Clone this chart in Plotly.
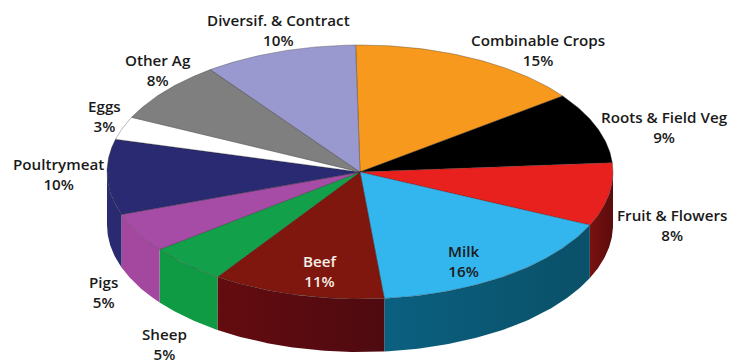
import numpy as np
import plotly.graph_objects as go

# Share of output by farming sector, clockwise from twelve o'clock
sectors = ["Combinable Crops", "Roots & Field Veg", "Fruit & Flowers", "Milk", "Beef",
           "Sheep", "Pigs", "Poultrymeat", "Eggs", "Other Ag", "Diversif. & Contract"]
shares = [15, 9, 8, 16, 11, 5, 5, 10, 3, 8, 10]

top_colors = ["#F7991C", "#000000", "#E8211F", "#33B5EE", "#80170F",
              "#12A04A", "#A64CA6", "#2A2A72", "#FFFFFF", "#7F7F7F", "#9999D0"]
wall_left = [None, None, "#7A1210", "#0B6080", "#640C10",
             "#0F9A44", "#A3479F", "#2A2A70", None, None, None]
wall_right = [None, None, "#5A0C0C", "#0A5068", "#4E0A10",
              "#0F9A44", "#A3479F", "#2A2A70", None, None, None]
label_colors = ["#1A1A1A"] * 4 + ["#F5EFE6"] + ["#1A1A1A"] * 6

# Text anchor of each label, in page pixels
label_x = [538, 664, 672, 463, 320, 164, 103, 58, 104, 158, 278]
label_y = [50, 127, 225, 261, 271, 344, 292, 174, 116, 70, 30]

CX, CY, RX, RY, DEPTH = 360, 172, 253, 127, 53
START_DEG = -1.0

# Tilted view: slices nearer the viewer sweep slightly further round the rim
VIEW_ANGLE = [0, 115, 172, 250, 284, 360]
VIEW_SHIFT = [0, 0.5, 2.7, 3.1, 1.5, 0]


def rim(t_deg):
    t = np.radians(t_deg)
    return CX + RX * np.sin(t), CY - RY * np.cos(t)


fig = go.Figure()
edges = START_DEG + 3.6 * np.concatenate([[0], np.cumsum(shares)])
edges = edges + np.interp(edges % 360, VIEW_ANGLE, VIEW_SHIFT)

# Side wall of the disc: only the front half (90 to 270 degrees) can be seen
for i in range(len(shares)):
    a, b = max(edges[i], 90), min(edges[i + 1], 270)
    if a >= b:
        continue
    ts = np.linspace(a, b, 60)
    x, y = rim(ts)
    fig.add_trace(go.Scatter(
        x=np.concatenate([x, x[::-1]]), y=np.concatenate([y, y[::-1] + DEPTH]),
        mode="lines", line=dict(width=0), fill="toself",
        fillgradient=dict(type="horizontal",
                          colorscale=[[0, wall_left[i]], [1, wall_right[i]]]),
        hoverinfo="skip", showlegend=False))

# Top face slices
for i, name in enumerate(sectors):
    ts = np.linspace(edges[i], edges[i + 1], 60)
    x, y = rim(ts)
    fig.add_trace(go.Scatter(
        x=np.concatenate([[CX], x, [CX]]), y=np.concatenate([[CY], y, [CY]]),
        mode="lines", line=dict(width=0.5, color="rgba(40,40,40,0.65)"),
        fill="toself", fillcolor=top_colors[i], name=name,
        hoverinfo="name", showlegend=False))

for i, name in enumerate(sectors):
    fig.add_annotation(
        x=label_x[i], y=label_y[i], text=f"{name}<br>{shares[i]}%", showarrow=False,
        font=dict(family="Open Sans", size=15.2, weight=600, color=label_colors[i]),
        align="center", xanchor="center", yanchor="middle")

fig.update_layout(
    width=737, height=363, margin=dict(l=0, r=0, t=0, b=0),
    paper_bgcolor="white", plot_bgcolor="white",
    xaxis=dict(range=[0, 737], visible=False, fixedrange=True),
    yaxis=dict(range=[363, 0], visible=False, fixedrange=True),
)
fig.write_html("out.html", config=dict(displayModeBar=False))
